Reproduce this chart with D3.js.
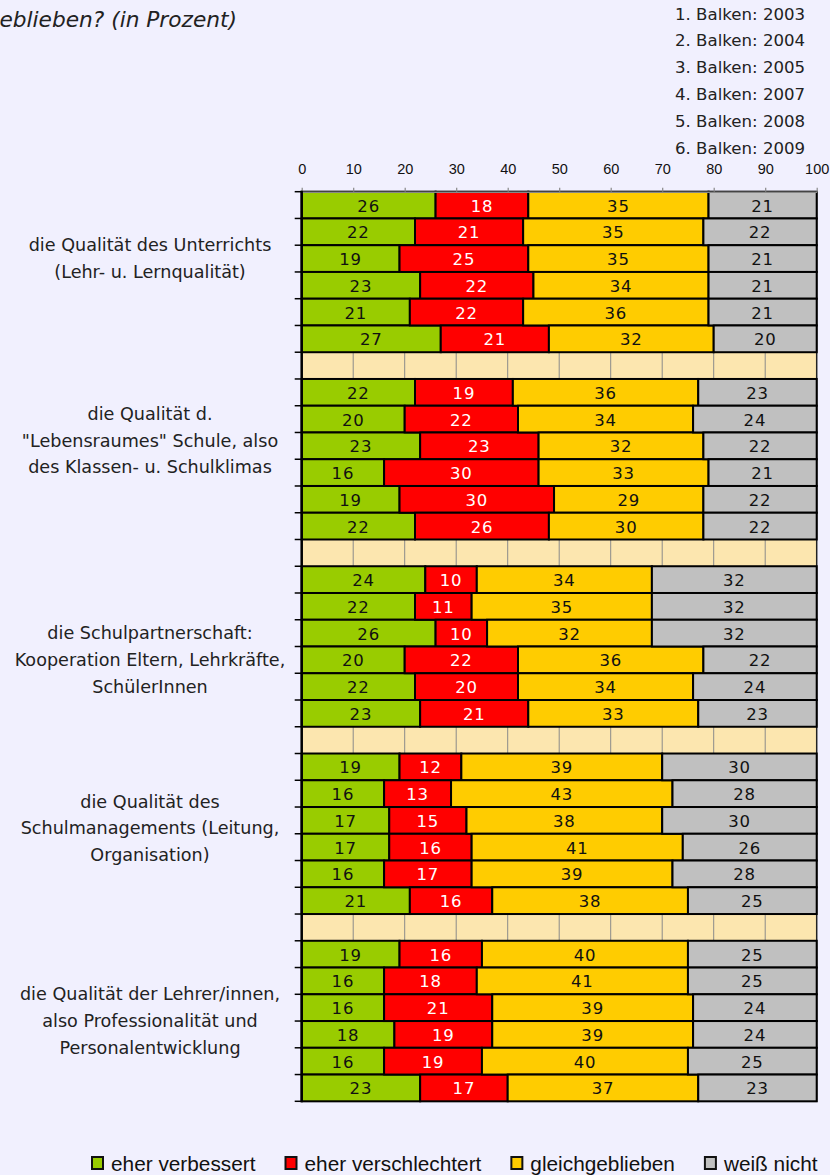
<!DOCTYPE html>
<html><head><meta charset="utf-8">
<script src="https://cdn.jsdelivr.net/npm/d3@7"></script>
<style>
body{margin:0;background:#F1F0FE;}
svg{display:block;}
</style>
</head><body>
<svg id="chart" width="830" height="1175"></svg>
<script>
// ---------- data ----------
const years = ["2003", "2004", "2005", "2007", "2008", "2009"];
const groupLabels = [
  ["die Qualität des Unterrichts", "(Lehr- u. Lernqualität)"],
  ["die Qualität d.", "\"Lebensraumes\" Schule, also", "des Klassen- u. Schulklimas"],
  ["die Schulpartnerschaft:", "Kooperation Eltern, Lehrkräfte,", "SchülerInnen"],
  ["die Qualität des", "Schulmanagements (Leitung,", "Organisation)"],
  ["die Qualität der Lehrer/innen,", "also Professionalität und", "Personalentwicklung"]
];
const seriesNames = ["eher verbessert", "eher verschlechtert", "gleichgeblieben", "weiß nicht"];
const seriesColors = ["#99CC00", "#FF0000", "#FFCC00", "#C0C0C0"];
const labelColors = ["#111111", "#FFFFFF", "#111111", "#111111"];

const eherVerbessert     = [26,22,19,23,21,27, 22,20,23,16,19,22, 24,22,26,20,22,23, 19,16,17,17,16,21, 19,16,16,18,16,23];
const eherVerschlechtert = [18,21,25,22,22,21, 19,22,23,30,30,26, 10,11,10,22,20,21, 12,13,15,16,17,16, 16,18,21,19,19,17];
const gleichgeblieben    = [35,35,35,34,36,32, 36,34,32,33,29,30, 34,35,32,36,34,33, 39,43,38,41,39,38, 40,41,39,39,40,37];
const weissNicht         = [21,22,21,21,21,20, 23,24,22,21,22,22, 32,32,32,22,24,23, 30,28,30,26,28,25, 25,25,24,24,25,23];

const xTicks = [0, 10, 20, 30, 40, 50, 60, 70, 80, 90, 100];
const title = "eblieben? (in Prozent)";

// ---------- layout ----------
const W = 830, H = 1175;
const plotLeft = 301.7, plotRight = 816.7, plotTop = 191.7, plotBottom = 1101.3;
// label anchor positions expressed in row units (layout, not data)
const labelAnchorRows = [2.5, 9.3, 17.5, 23.8, 31.0];
const mainFont = "'DejaVu Sans', 'Noto Sans', sans-serif";
const narrowFont = "'Liberation Sans Narrow', 'Arial Narrow', 'Liberation Sans', sans-serif";

const svg = d3.select("#chart");
svg.append("rect").attr("width", W).attr("height", H).attr("fill", "#F1F0FE");

// rows: 5 groups of 6 years, spacer rows between groups
const rows = [];
groupLabels.forEach((g, gi) => {
  years.forEach((yr, yi) => {
    const i = gi * years.length + yi;
    rows.push({id: `r${gi}-${yi}`, spacer: false,
      "eher verbessert": eherVerbessert[i],
      "eher verschlechtert": eherVerschlechtert[i],
      "gleichgeblieben": gleichgeblieben[i],
      "weiß nicht": weissNicht[i]});
  });
  if (gi < groupLabels.length - 1) rows.push({id: `s${gi}`, spacer: true});
});

const x = d3.scaleLinear().domain([0, 100]).range([plotLeft, plotRight]);
const y = d3.scaleBand().domain(rows.map(r => r.id)).range([plotTop, plotBottom]).paddingInner(0).paddingOuter(0);
const yRow = d3.scaleLinear().domain([0, rows.length]).range([plotTop, plotBottom]);

// plot area
svg.append("rect")
  .attr("x", plotLeft).attr("y", plotTop)
  .attr("width", plotRight - plotLeft).attr("height", plotBottom - plotTop)
  .attr("fill", "#FCE6AF").attr("stroke", "#222").attr("stroke-width", 1.5);

// gridlines
svg.append("g").selectAll("line").data(xTicks.filter(t => t > 0 && t < 100)).join("line")
  .attr("x1", d => x(d)).attr("x2", d => x(d))
  .attr("y1", plotTop).attr("y2", plotBottom)
  .attr("stroke", "#8a8a8a").attr("stroke-width", 1);

// stacked bars
const dataRows = rows.filter(r => !r.spacer);
const stack = d3.stack().keys(seriesNames);
const stacked = stack(dataRows);

const layers = svg.append("g").selectAll("g").data(stacked).join("g")
  .attr("fill", (d, i) => seriesColors[i]);

layers.selectAll("rect").data(d => d).join("rect")
  .attr("x", d => x(d[0]))
  .attr("y", d => y(d.data.id))
  .attr("width", d => x(d[1]) - x(d[0]))
  .attr("height", y.bandwidth())
  .attr("stroke", "#000").attr("stroke-width", 2);

const labels = svg.append("g").selectAll("g").data(stacked).join("g")
  .attr("fill", (d, i) => labelColors[i]);
labels.selectAll("text").data(d => d).join("text")
  .attr("x", d => (x(d[0]) + x(d[1])) / 2)
  .attr("y", d => y(d.data.id) + y.bandwidth() / 2 + 1)
  .attr("text-anchor", "middle")
  .attr("dominant-baseline", "central")
  .attr("font-family", mainFont)
  .attr("font-size", 16.5)
  .attr("letter-spacing", 0.8)
  .text(d => d[1] - d[0]);

// top axis
const xAxis = d3.axisTop(x).tickValues(xTicks).tickSize(4).tickPadding(14).tickSizeOuter(0);
const ax = svg.append("g").attr("transform", `translate(0,${plotTop})`).call(xAxis);
ax.select(".domain").attr("stroke", "#888").attr("stroke-width", 1.5);
ax.selectAll(".tick line").attr("stroke", "#888").attr("stroke-width", 1.2);
ax.selectAll(".tick text")
  .attr("font-family", narrowFont)
  .attr("font-size", 14.5).attr("fill", "#111");

// left axis with ticks at every row boundary
const boundaries = d3.range(rows.length + 1);
svg.append("g").selectAll("line").data(boundaries).join("line")
  .attr("x1", plotLeft - 7).attr("x2", plotLeft)
  .attr("y1", d => yRow(d)).attr("y2", d => yRow(d))
  .attr("stroke", "#000").attr("stroke-width", 1.5);
svg.append("line")
  .attr("x1", plotLeft).attr("x2", plotLeft)
  .attr("y1", plotTop - 1).attr("y2", plotBottom + 1)
  .attr("stroke", "#000").attr("stroke-width", 2.5);

// category labels
const lineH = 26.8;
const catG = svg.append("g")
  .attr("font-family", mainFont)
  .attr("font-size", 17.6).attr("fill", "#222").attr("text-anchor", "middle");
groupLabels.forEach((lines, gi) => {
  const cy = yRow(labelAnchorRows[gi]);
  lines.forEach((ln, li) => {
    catG.append("text")
      .attr("x", 150)
      .attr("y", cy + (li - (lines.length - 1) / 2) * lineH)
      .attr("dominant-baseline", "central")
      .text(ln);
  });
});

// year key top right
const keyG = svg.append("g")
  .attr("font-family", mainFont)
  .attr("font-size", 16.6).attr("fill", "#222");
years.forEach((yr, i) => {
  keyG.append("text")
    .attr("x", 675).attr("y", 14 + i * 26.8)
    .attr("dominant-baseline", "central")
    .text(`${i + 1}. Balken: ${yr}`);
});

// title fragment
svg.append("text")
  .attr("x", 237).attr("y", 19)
  .attr("text-anchor", "end").attr("dominant-baseline", "central")
  .attr("font-family", mainFont)
  .attr("font-style", "italic").attr("font-size", 21.7).attr("fill", "#222")
  .text(title);

// bottom legend (flow layout)
const legG = svg.append("g");
let lx = 92;
const ly = 1163;
seriesNames.forEach((name, i) => {
  legG.append("rect")
    .attr("x", lx).attr("y", ly - 6).attr("width", 11).attr("height", 12)
    .attr("fill", seriesColors[i]).attr("stroke", "#111").attr("stroke-width", 2);
  const t = legG.append("text")
    .attr("x", lx + 19).attr("y", ly)
    .attr("dominant-baseline", "central")
    .attr("font-family", narrowFont)
    .attr("font-size", 20.8).attr("fill", "#111")
    .text(name);
  lx = lx + 19 + t.node().getComputedTextLength() + 30;
});
</script>
</body></html>
